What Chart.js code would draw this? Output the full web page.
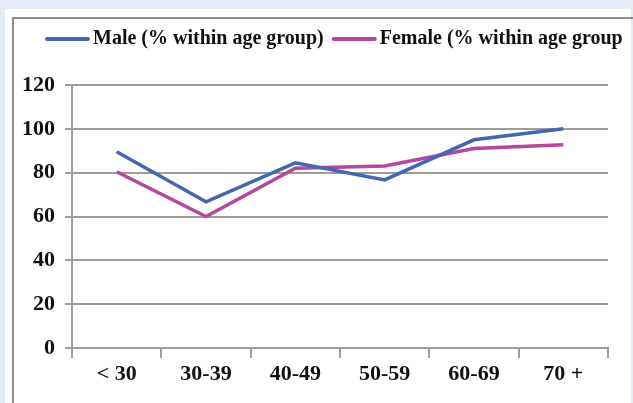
<!DOCTYPE html>
<html>
<head>
<meta charset="utf-8">
<script src="https://cdn.jsdelivr.net/npm/chart.js@4"></script>
<style>
  html, body { margin: 0; padding: 0; width: 633px; height: 403px; overflow: hidden; background: #e6ecf6; }
  #panel { position: absolute; left: 5px; top: 9px; width: 626px; height: 394px; background: #ffffff; }
  #frame { position: absolute; left: 12px; top: 17px; right: 0; bottom: 0; border-left: 2px solid #8f8f8f; border-top: 2px solid #8f8f8f; }
  #wrap { position: absolute; left: 0; top: 0; width: 633px; height: 403px; }
</style>
</head>
<body>
<div id="panel"></div>
<div id="frame"></div>
<div id="wrap"><canvas id="c" width="633" height="403"></canvas></div>
<script>
// Age groups on the x axis
const ageGroups = ['< 30', '30-39', '40-49', '50-59', '60-69', '70 +'];
// Percentages within each age group
const maleValues = [89.5, 66.7, 84.5, 76.7, 95, 100];
const femaleValues = [80.4, 60, 82, 83, 91, 92.7];
const seriesNames = ['Male (% within age group)', 'Female (% within age group'];
const yTicks = [0, 20, 40, 60, 80, 100, 120];

const FONT = "'Liberation Serif', 'Times New Roman', serif";
const GRID = '#a29c96';
const MALE = '#4467b2';
const FEMALE = '#b4479f';

// Legend drawn as a row of short line swatches followed by bold labels
const lineLegend = {
  id: 'lineLegend',
  afterDraw(chart) {
    const ctx = chart.ctx;
    ctx.save();
    ctx.font = 'bold 20px ' + FONT;
    ctx.textBaseline = 'middle';
    ctx.fillStyle = '#111';
    let x = 47;
    const y = 39;
    chart.data.datasets.forEach(ds => {
      ctx.strokeStyle = ds.borderColor;
      ctx.lineWidth = 4;
      ctx.lineCap = 'round';
      ctx.beginPath();
      ctx.moveTo(x, y);
      ctx.lineTo(x + 41, y);
      ctx.stroke();
      x += 46;
      ctx.fillText(ds.label, x, y);
      x += ctx.measureText(ds.label).width + 10;
    });
    ctx.restore();
  }
};

new Chart(document.getElementById('c'), {
  type: 'line',
  data: {
    labels: ageGroups,
    datasets: [
      { label: seriesNames[0], data: maleValues, borderColor: MALE, backgroundColor: MALE,
        borderWidth: 3.5, pointRadius: 0, tension: 0 },
      { label: seriesNames[1], data: femaleValues, borderColor: FEMALE, backgroundColor: FEMALE,
        borderWidth: 3.5, pointRadius: 0, tension: 0 }
    ]
  },
  options: {
    responsive: false,
    animation: false,
    layout: { padding: { top: 85, right: 25, bottom: 0, left: 0 } },
    plugins: { legend: { display: false }, tooltip: { enabled: false } },
    scales: {
      x: {
        offset: true,
        grid: { offset: true, drawOnChartArea: false, drawTicks: true, tickLength: 10, color: GRID, lineWidth: 2 },
        border: { color: GRID, width: 2 },
        ticks: { font: { family: FONT, size: 22, weight: 'bold' }, color: '#111', padding: 3 },
        afterFit: s => { s.height = 55; }
      },
      y: {
        min: 0, max: 120,
        afterBuildTicks: s => { s.ticks = yTicks.map(v => ({ value: v })); },
        grid: { color: GRID, lineWidth: 2, tickLength: 7 },
        border: { color: GRID, width: 2 },
        ticks: { font: { family: FONT, size: 22, weight: 'bold' }, color: '#111', padding: 10 },
        afterFit: s => { s.width = 72; }
      }
    }
  },
  plugins: [lineLegend]
});
</script>
</body>
</html>
